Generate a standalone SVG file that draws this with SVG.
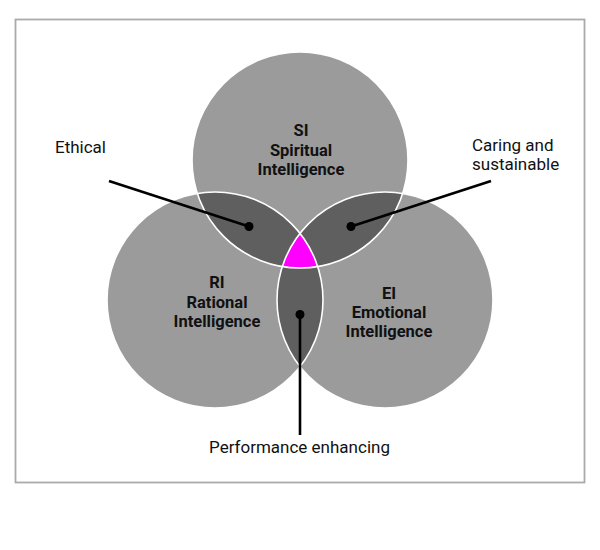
<svg xmlns="http://www.w3.org/2000/svg" width="600" height="550" viewBox="0 0 600 550">
<style>
.circ{fill:#9b9b9b}
.lens{fill:#5f5f5f}
.core{fill:#ff00ff}
.edge{fill:none;stroke:#ffffff;stroke-width:1.6}
.lbl{font-family:Roboto,"Liberation Sans",sans-serif;font-weight:bold;font-size:16.5px;fill:#111;text-anchor:middle}
.call{font-family:Roboto,"Liberation Sans",sans-serif;font-size:17px;fill:#111}
.lead{stroke:#000;stroke-width:2.6;fill:none}
.dot{fill:#000}
</style>
<defs>
<clipPath id="cSI"><circle cx="300" cy="160" r="108"/></clipPath>
<clipPath id="cRI"><circle cx="215" cy="300" r="108"/></clipPath>
<clipPath id="cEI"><circle cx="385" cy="300" r="108"/></clipPath>
</defs>
<rect x="15.5" y="19.5" width="569" height="463" fill="#ffffff" stroke="#aaaaaa" stroke-width="1.8"/>
<g id="SI"><circle class="circ" cx="300" cy="160" r="108"/></g>
<g id="RI"><circle class="circ" cx="215" cy="300" r="108"/></g>
<g id="EI"><circle class="circ" cx="385" cy="300" r="108"/></g>
<g id="ethical-lens"><circle class="lens" cx="215" cy="300" r="108" clip-path="url(#cSI)"/></g>
<g id="caring-lens"><circle class="lens" cx="385" cy="300" r="108" clip-path="url(#cSI)"/></g>
<g id="performance-lens"><circle class="lens" cx="385" cy="300" r="108" clip-path="url(#cRI)"/></g>
<g id="core" clip-path="url(#cRI)"><circle class="core" cx="385" cy="300" r="108" clip-path="url(#cSI)"/></g>
<g id="outlines">
<circle class="edge" cx="300" cy="160" r="108"/>
<circle class="edge" cx="215" cy="300" r="108"/>
<circle class="edge" cx="385" cy="300" r="108"/>
</g>
<g id="labels">
<text class="lbl" x="301" y="136">SI</text>
<text class="lbl" x="301" y="156">Spiritual</text>
<text class="lbl" x="301" y="175">Intelligence</text>
<text class="lbl" x="217" y="288">RI</text>
<text class="lbl" x="217" y="308">Rational</text>
<text class="lbl" x="217" y="327">Intelligence</text>
<text class="lbl" x="389" y="299">EI</text>
<text class="lbl" x="389" y="318">Emotional</text>
<text class="lbl" x="389" y="337">Intelligence</text>
</g>
<g id="connectors">
<line class="lead" x1="109" y1="181" x2="249" y2="226.5"/>
<circle class="dot" cx="249" cy="226.5" r="4.5"/>
<line class="lead" x1="491" y1="181" x2="351" y2="226.5"/>
<circle class="dot" cx="351" cy="226.5" r="4.5"/>
<line class="lead" x1="300" y1="435" x2="300" y2="314.5"/>
<circle class="dot" cx="300" cy="314.5" r="4.5"/>
</g>
<g id="callouts">
<text class="call" x="55" y="153">Ethical</text>
<text class="call" x="472" y="151">Caring and</text>
<text class="call" x="472" y="170">sustainable</text>
<text class="call" x="299.5" y="453" text-anchor="middle">Performance enhancing</text>
</g>
</svg>
